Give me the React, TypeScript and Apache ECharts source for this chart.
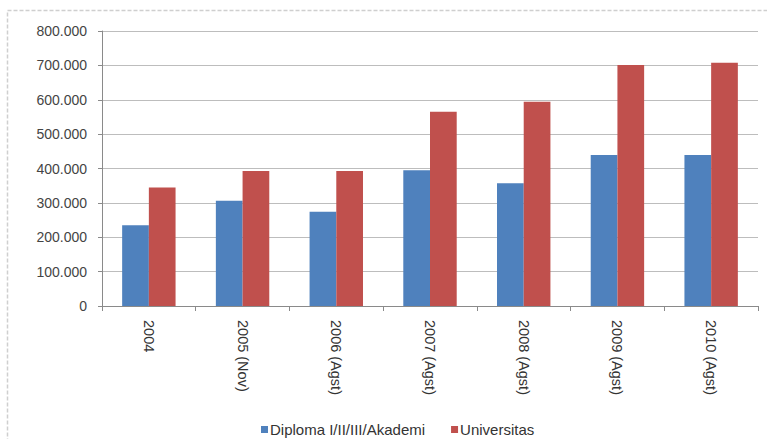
import React, { useEffect, useRef } from "react";
import * as echarts from "echarts";

const categories = ["2004", "2005 (Nov)", "2006 (Agst)", "2007 (Agst)", "2008 (Agst)", "2009 (Agst)", "2010 (Agst)"];
const diplomaValues = [235000, 306000, 274000, 395000, 357000, 439000, 439000];
const universitasValues = [345000, 393000, 393000, 565000, 594000, 701000, 708000];
const seriesNames = ["Diploma I/II/III/Akademi", "Universitas"];

const fmt = (v: number) => {
  if (v === 0) return "0";
  const s = String(v);
  return s.replace(/\B(?=(\d{3})+(?!\d))/g, ".");
};

export default function App() {
  const ref = useRef<HTMLDivElement>(null);
  useEffect(() => {
    if (!ref.current) return;
    const chart = echarts.init(ref.current, undefined, { renderer: "svg" });
    const font = "Liberation Sans, Arial, sans-serif";
    chart.setOption({
      animation: false,
      backgroundColor: "#ffffff",
      textStyle: { fontFamily: font },
      graphic: [
        {
          type: "rect",
          shape: { x: 7.5, y: 10.5, width: 780, height: 450 },
          style: { fill: "none", stroke: "#cfcfcf", lineWidth: 1.5, lineDash: [4, 2] },
          silent: true,
        },
      ],
      grid: { left: 102, right: 9, top: 31, bottom: 133, containLabel: false },
      legend: {
        data: seriesNames,
        top: 417,
        left: 256,
        itemWidth: 7,
        itemHeight: 7,
        itemGap: 26,
        icon: "rect",
        textStyle: { fontSize: 15, color: "#333", fontFamily: font, padding: [0, 0, 0, -3] },
      },
      xAxis: {
        type: "category",
        data: categories,
        axisLine: { lineStyle: { color: "#8a8a8a" } },
        axisTick: { show: true, alignWithLabel: false, length: 5, lineStyle: { color: "#8a8a8a" } },
        axisLabel: { rotate: -90, fontSize: 14.5, color: "#333", margin: 14, fontFamily: font },
      },
      yAxis: {
        type: "value",
        min: 0,
        max: 800000,
        interval: 100000,
        axisLine: { show: true, lineStyle: { color: "#8a8a8a" } },
        axisTick: { show: true, length: 4, lineStyle: { color: "#8a8a8a" } },
        splitLine: { lineStyle: { color: "#bdbdbd" } },
        axisLabel: { fontSize: 14, color: "#444", margin: 15, formatter: fmt, fontFamily: font },
      },
      series: [
        {
          name: seriesNames[0],
          type: "bar",
          data: diplomaValues,
          itemStyle: { color: "#4F81BD" },
          barGap: "0%",
          barCategoryGap: "43%",
        },
        {
          name: seriesNames[1],
          type: "bar",
          data: universitasValues,
          itemStyle: { color: "#C0504D" },
          barGap: "0%",
          barCategoryGap: "43%",
        },
      ],
    });
    return () => chart.dispose();
  }, []);
  return <div ref={ref} style={{ width: 767, height: 439, position: "absolute", left: 0, top: 0 }} />;
}
